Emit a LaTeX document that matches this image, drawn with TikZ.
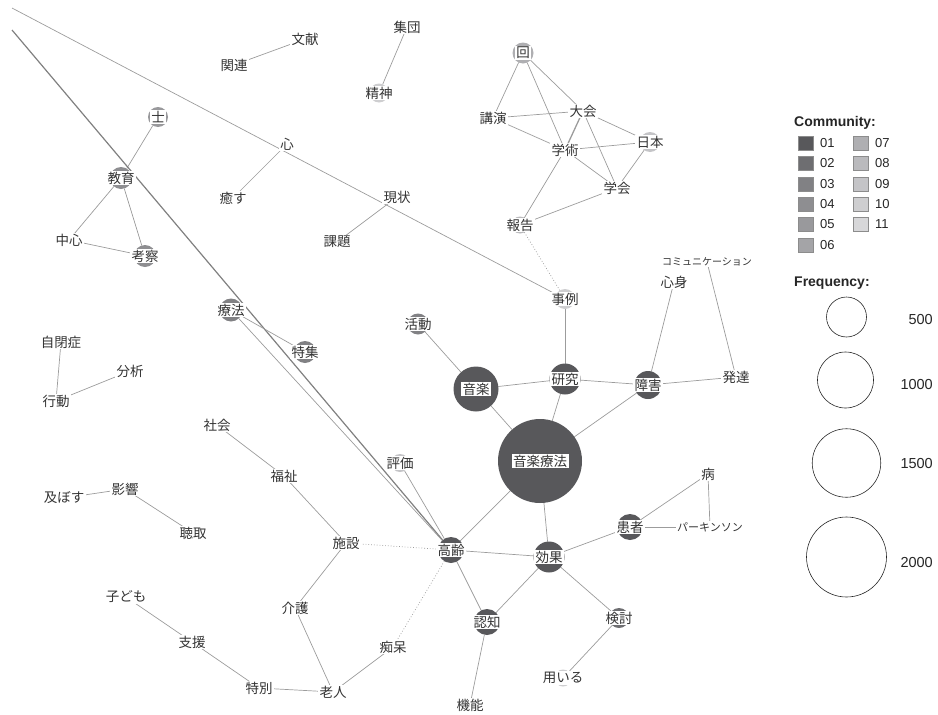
\documentclass[tikz,border=0pt]{standalone}
\usepackage{fontspec}
\newfontfamily\jp{Noto Sans CJK JP}
\newfontfamily\lsans{Liberation Sans}
\usetikzlibrary{backgrounds}
\definecolor{c01}{HTML}{58585B}
\definecolor{c02}{HTML}{6E6E71}
\definecolor{c03}{HTML}{818184}
\definecolor{c04}{HTML}{8E8E91}
\definecolor{c05}{HTML}{99999C}
\definecolor{c06}{HTML}{A4A4A7}
\definecolor{c07}{HTML}{AFAFB2}
\definecolor{c08}{HTML}{BABABD}
\definecolor{c09}{HTML}{C4C4C7}
\definecolor{c10}{HTML}{CECED0}
\definecolor{c11}{HTML}{D7D7D9}
\definecolor{edgegray}{HTML}{9C9C9C}
\begin{document}
\begin{tikzpicture}[x=1pt, y=-1pt,
    word/.style={circle, inner sep=0pt, outer sep=0pt, minimum size=#1},
    word/.default=0,
    lbl/.style={fill=white, inner xsep=1.5pt, inner ysep=1.2pt, text=black!80, font=\jp\fontsize{13.5}{15}\selectfont},
    edge/.style={edgegray, line width=0.7pt},
    heavy/.style={black!50, line width=1.2pt},
    dotedge/.style={edgegray, line width=0.7pt, dash pattern=on 0.8pt off 2pt},
    leg/.style={inner sep=0pt, font=\lsans\fontsize{13}{15}\selectfont, text=black!85},
    legtitle/.style={inner sep=0pt, font=\lsans\bfseries\fontsize{14}{16}\selectfont, text=black!85},
    cbox/.style={draw=black!45, line width=0.5pt, minimum width=15, minimum height=14, inner sep=0pt},
    freq/.style={circle, draw=black!85, line width=0.6pt, inner sep=0pt, minimum size=#1}]
\useasboundingbox (0,0) rectangle (938,715);

% loose ends of the two long lines
\coordinate (farA) at (12,8);
\coordinate (farB) at (12,30);

% top cluster
\node[word, label={[lbl]center:関連}] (kanren) at (234,65) {};
\node[word, label={[lbl]center:文献}] (bunken) at (305,39) {};
\node[word, label={[lbl]center:集団}] (shudan) at (407,27) {};
\node[word=19, fill=c10, label={[lbl]center:精神}] (seishin) at (379,93) {};
\node[word=21, fill=c07, label={[lbl]center:回}] (kai) at (523,53) {};
\node[word, label={[lbl]center:講演}] (koen) at (493,118) {};
\node[word, label={[lbl]center:大会}] (taikai) at (583,111) {};
\node[word, label={[lbl]center:学術}] (gakujutsu) at (565,150) {};
\node[word=20, fill=c09, label={[lbl]center:日本}] (nihon) at (650,142) {};
\node[word, label={[lbl]center:学会}] (gakkai) at (617,188) {};
\node[word=17, fill=c08, label={[lbl]center:報告}] (hokoku) at (520,225) {};

% left top
\node[word=20, fill=c05, label={[lbl]center:士}] (shi) at (158,117) {};
\node[word=22, fill=c04, label={[lbl]center:教育}] (kyoiku) at (121,178) {};
\node[word, label={[lbl]center:中心}] (chushin) at (69,240) {};
\node[word=22, fill=c04, label={[lbl]center:考察}] (kosatsu) at (145,256) {};
\node[word, label={[lbl]center:心}] (kokoro) at (287,144) {};
\node[word, label={[lbl]center:癒す}] (iyasu) at (233,198) {};
\node[word, label={[lbl]center:現状}] (genjo) at (397,197) {};
\node[word, label={[lbl]center:課題}] (kadai) at (337,242) {};
\node[word=20, fill=c10, label={[lbl]center:事例}] (jirei) at (565,299) {};
\node[word, label={[lbl, font=\jp\fontsize{10}{12}\selectfont]center:コミュニケーション}] (komyu) at (707,262) {};
\node[word, label={[lbl]center:心身}] (shinshin) at (674,282) {};

% middle
\node[word=23, fill=c03, label={[lbl]center:療法}] (ryoho) at (231,310) {};
\node[word=22, fill=c03, label={[lbl]center:特集}] (tokushu) at (305,352) {};
\node[word=21, fill=c03, label={[lbl]center:活動}] (katsudo) at (418,324) {};
\node[word=45, fill=c01, label={[lbl]center:音楽}] (ongaku) at (476,389) {};
\node[word=31, fill=c01, label={[lbl]center:研究}] (kenkyu) at (565,379) {};
\node[word=28, fill=c01, label={[lbl]center:障害}] (shogai) at (648,385) {};
\node[word, label={[lbl]center:発達}] (hattatsu) at (736,377) {};
\node[word, label={[lbl]center:自閉症}] (jiheisho) at (61,342) {};
\node[word, label={[lbl]center:分析}] (bunseki) at (130,371) {};
\node[word, label={[lbl]center:行動}] (kodo) at (56,401) {};
\node[word, label={[lbl]center:社会}] (shakai) at (217,425) {};
\node[word, label={[lbl]center:福祉}] (fukushi) at (284,476) {};
\node[word=18, fill=c09, label={[lbl]center:評価}] (hyoka) at (400,463) {};
\node[word=84, fill=c01, label={[lbl]center:音楽療法}] (ongakuryoho) at (540,461) {};

% bottom
\node[word, label={[lbl]center:病}] (yamai) at (708,474) {};
\node[word=26, fill=c01, label={[lbl]center:患者}] (kanja) at (630,527) {};
\node[word, label={[lbl, font=\jp\fontsize{11}{13}\selectfont]center:パーキンソン}] (parkinson) at (710,527) {};
\node[word, label={[lbl]center:影響}] (eikyo) at (125,489) {};
\node[word, label={[lbl]center:及ぼす}] (oyobosu) at (64,498) {};
\node[word, label={[lbl]center:聴取}] (chosyu) at (193,533) {};
\node[word, label={[lbl]center:施設}] (shisetsu) at (346,543) {};
\node[word=26, fill=c01, label={[lbl]center:高齢}] (korei) at (451,550) {};
\node[word=31, fill=c01, label={[lbl]center:効果}] (koka) at (549,557) {};
\node[word, label={[lbl]center:子ども}] (kodomo) at (126,597) {};
\node[word, label={[lbl]center:支援}] (shien) at (192,642) {};
\node[word, label={[lbl]center:介護}] (kaigo) at (295,608) {};
\node[word, label={[lbl]center:痴呆}] (chiho) at (393,647) {};
\node[word=26, fill=c01, label={[lbl]center:認知}] (ninchi) at (487,622) {};
\node[word=20, fill=c02, label={[lbl]center:検討}] (kento) at (619,618) {};
\node[word, label={[lbl]center:特別}] (tokubetsu) at (259,688) {};
\node[word, label={[lbl]center:老人}] (rojin) at (333,692) {};
\node[word=17, fill=c10, label={[lbl]center:用いる}] (mochiiru) at (563,678) {};
\node[word, label={[lbl]center:機能}] (kino) at (470,705) {};

% co-occurrence edges
\begin{scope}[on background layer]
  \draw[edge] (kanren) -- (bunken);
  \draw[edge] (shudan) -- (seishin);
  \draw[edge] (kai) -- (koen);
  \draw[edge] (kai) -- (gakujutsu);
  \draw[edge] (kai) -- (taikai);
  \draw[edge] (koen) -- (taikai);
  \draw[edge] (koen) -- (gakujutsu);
  \draw[edge, line width=1.3pt] (taikai) -- (gakujutsu);
  \draw[edge] (taikai) -- (nihon);
  \draw[edge] (taikai) -- (gakkai);
  \draw[edge] (gakujutsu) -- (nihon);
  \draw[edge] (gakujutsu) -- (gakkai);
  \draw[edge] (gakujutsu) -- (hokoku);
  \draw[edge] (nihon) -- (gakkai);
  \draw[edge] (gakkai) -- (hokoku);
  \draw[dotedge] (hokoku) -- (jirei);
  \draw[edge] (shi) -- (kyoiku);
  \draw[edge] (kyoiku) -- (chushin);
  \draw[edge] (kyoiku) -- (kosatsu);
  \draw[edge] (chushin) -- (kosatsu);
  \draw[edge] (farA) -- (jirei);
  \draw[edge] (kokoro) -- (iyasu);
  \draw[edge] (genjo) -- (kadai);
  \draw[heavy] (farB) -- (korei);
  \draw[edge] (ryoho) -- (tokushu);
  \draw[edge] (ryoho) -- (korei);
  \draw[edge] (jirei) -- (kenkyu);
  \draw[edge] (katsudo) -- (ongaku);
  \draw[edge] (ongaku) -- (kenkyu);
  \draw[edge] (ongaku) -- (ongakuryoho);
  \draw[edge] (kenkyu) -- (ongakuryoho);
  \draw[edge] (kenkyu) -- (shogai);
  \draw[edge] (shogai) -- (ongakuryoho);
  \draw[edge] (shogai) -- (shinshin);
  \draw[edge] (shogai) -- (hattatsu);
  \draw[edge] (hattatsu) -- (komyu);
  \draw[edge] (jiheisho) -- (kodo);
  \draw[edge] (kodo) -- (bunseki);
  \draw[edge] (shakai) -- (fukushi);
  \draw[edge] (fukushi) -- (shisetsu);
  \draw[edge] (hyoka) -- (korei);
  \draw[edge] (ongakuryoho) -- (korei);
  \draw[edge] (ongakuryoho) -- (koka);
  \draw[edge] (yamai) -- (kanja);
  \draw[edge] (yamai) -- (parkinson);
  \draw[edge] (kanja) -- (parkinson);
  \draw[edge] (eikyo) -- (oyobosu);
  \draw[edge] (eikyo) -- (chosyu);
  \draw[dotedge] (shisetsu) -- (korei);
  \draw[edge] (shisetsu) -- (kaigo);
  \draw[edge] (korei) -- (koka);
  \draw[edge] (korei) -- (ninchi);
  \draw[dotedge] (korei) -- (chiho);
  \draw[edge] (koka) -- (kanja);
  \draw[edge] (koka) -- (ninchi);
  \draw[edge] (koka) -- (kento);
  \draw[edge] (kodomo) -- (shien);
  \draw[edge] (shien) -- (tokubetsu);
  \draw[edge] (tokubetsu) -- (rojin);
  \draw[edge] (kaigo) -- (rojin);
  \draw[edge] (chiho) -- (rojin);
  \draw[edge] (ninchi) -- (kino);
  \draw[edge] (kento) -- (mochiiru);
\end{scope}

% legend: community
\node[legtitle, anchor=west] (commtitle) at (794,123) {Community:};
\foreach \n/\y in {01/143,02/163.5,03/184,04/204,05/224.5,06/245} {
  \node[cbox, fill=c\n] (box\n) at (805.5,\y) {};
  \node[leg, anchor=west] (lab\n) at (820,\y) {\n};
}
\foreach \n/\y in {07/143,08/163.5,09/184,10/204,11/224.5} {
  \node[cbox, fill=c\n] (box\n) at (860.5,\y) {};
  \node[leg, anchor=west] (lab\n) at (875,\y) {\n};
}

% legend: frequency
\node[legtitle, anchor=west] (freqtitle) at (794,283) {Frequency:};
\node[freq=40] (f500) at (846.5,317) {};
\node[freq=56] (f1000) at (845.5,380) {};
\node[freq=68.5] (f1500) at (846.5,463) {};
\node[freq=80] (f2000) at (846.5,557) {};
\node[leg, anchor=east, font=\lsans\fontsize{14.5}{16}\selectfont] (t500) at (933,320) {500};
\node[leg, anchor=east, font=\lsans\fontsize{14.5}{16}\selectfont] (t1000) at (933,385) {1000};
\node[leg, anchor=east, font=\lsans\fontsize{14.5}{16}\selectfont] (t1500) at (933,464) {1500};
\node[leg, anchor=east, font=\lsans\fontsize{14.5}{16}\selectfont] (t2000) at (933,563) {2000};
\end{tikzpicture}
\end{document}
